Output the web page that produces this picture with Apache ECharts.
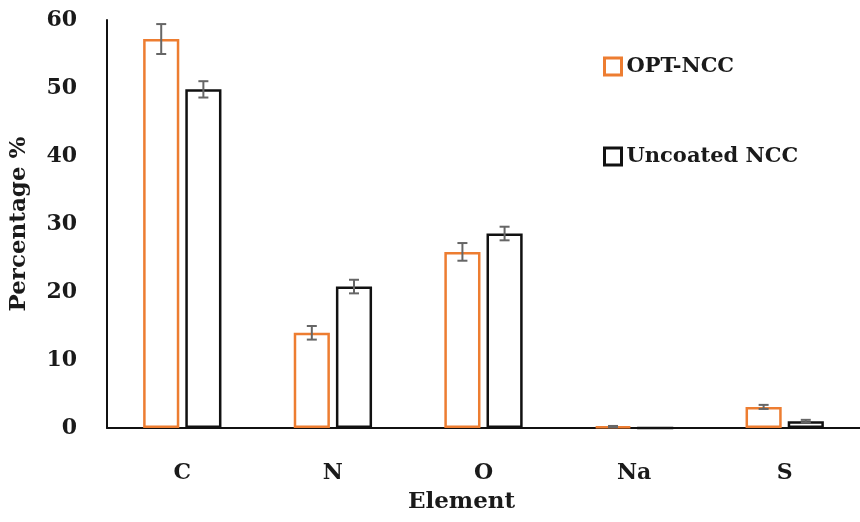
<!DOCTYPE html>
<html>
<head>
<meta charset="utf-8">
<script src="https://cdn.jsdelivr.net/npm/echarts@6/dist/echarts.min.js"></script>
<style>
  html, body { margin: 0; padding: 0; background: #fff; }
  #chart { width: 860px; height: 522px; }
</style>
</head>
<body>
<div id="chart"></div>
<script>
// Elemental composition (EDX), mean ± error
const elements = ['C', 'N', 'O', 'Na', 'S'];
const optNcc = [57.2, 14.0, 25.9, 0.2, 3.1];
const optNccErr = [2.2, 1.0, 1.3, 0.1, 0.3];
const uncoatedNcc = [49.8, 20.8, 28.6, 0.0, 1.0];
const uncoatedNccErr = [1.2, 1.0, 1.0, 0.0, 0.2];
const yTicks = [0, 10, 20, 30, 40, 50, 60];

const FONT = 'DejaVu Serif';
const BAR_W = 0.24;      // fraction of category band
const BAR_GAP = 6 / 36;  // gap between paired bars, fraction of bar width

function errorSeries(name, values, errs, side) {
  return {
    type: 'custom',
    name: name + ' error',
    z: 5,
    silent: true,
    data: values.map((v, i) => [i, v, errs[i]]),
    renderItem: function (params, api) {
      const i = api.value(0);
      const v = api.value(1);
      const e = api.value(2);
      if (!e) return null;
      const band = api.size([1, 0])[0];
      const off = side * band * BAR_W * (1 + BAR_GAP) / 2;
      const top = api.coord([i, v + e]);
      const bot = api.coord([i, v - e]);
      const x = top[0] + off;
      const cap = 5;
      const style = { stroke: '#666', lineWidth: 2, fill: null };
      return {
        type: 'group',
        children: [
          { type: 'line', shape: { x1: x, y1: top[1], x2: x, y2: bot[1] }, style: style },
          { type: 'line', shape: { x1: x - cap, y1: top[1], x2: x + cap, y2: top[1] }, style: style },
          { type: 'line', shape: { x1: x - cap, y1: bot[1], x2: x + cap, y2: bot[1] }, style: style }
        ]
      };
    }
  };
}

const chart = echarts.init(document.getElementById('chart'));
chart.setOption({
  backgroundColor: '#fff',
  animation: false,
  textStyle: { fontFamily: FONT },
  grid: { left: 107, top: 20, width: 758, bottom: 94, containLabel: false },
  legend: {
    orient: 'vertical',
    left: 598,
    top: 51,
    itemGap: 69,
    itemWidth: 17,
    itemHeight: 17,
    icon: 'rect',
    data: [
      { name: 'OPT-NCC', itemStyle: { color: '#fff', borderColor: '#ED7D31', borderWidth: 3 } },
      { name: 'Uncoated NCC', itemStyle: { color: '#fff', borderColor: '#111', borderWidth: 3 } }
    ],
    textStyle: { fontFamily: FONT, fontWeight: 'bold', fontSize: 21, color: '#1a1a1a' }
  },
  xAxis: {
    type: 'category',
    data: elements,
    name: 'Element',
    nameLocation: 'middle',
    nameGap: 63,
    nameTextStyle: { fontFamily: FONT, fontWeight: 'bold', fontSize: 23, color: '#1a1a1a', padding: [0, 44, 0, 0] },
    axisLine: { lineStyle: { color: '#111', width: 2 } },
    axisTick: { show: false },
    axisLabel: { margin: 34, fontFamily: FONT, fontWeight: 'bold', fontSize: 22, color: '#1a1a1a' }
  },
  yAxis: {
    type: 'value',
    min: yTicks[0],
    max: yTicks[yTicks.length - 1],
    interval: 10,
    name: 'Percentage %',
    nameLocation: 'middle',
    nameGap: 76,
    nameTextStyle: { fontFamily: FONT, fontWeight: 'bold', fontSize: 23, color: '#1a1a1a' },
    axisLine: { show: true, lineStyle: { color: '#111', width: 2 } },
    axisTick: { show: false },
    splitLine: { show: false },
    axisLabel: { margin: 30, fontFamily: FONT, fontWeight: 'bold', fontSize: 22, color: '#1a1a1a' }
  },
  series: [
    {
      type: 'bar',
      name: 'OPT-NCC',
      data: optNcc,
      barWidth: (BAR_W * 100) + '%',
      barGap: (BAR_GAP * 100) + '%',
      itemStyle: { color: '#fff', borderColor: '#ED7D31', borderWidth: 2.5 }
    },
    {
      type: 'bar',
      name: 'Uncoated NCC',
      data: uncoatedNcc,
      barWidth: (BAR_W * 100) + '%',
      barGap: (BAR_GAP * 100) + '%',
      itemStyle: { color: '#fff', borderColor: '#111', borderWidth: 2.5 }
    },
    errorSeries('OPT-NCC', optNcc, optNccErr, -1),
    errorSeries('Uncoated NCC', uncoatedNcc, uncoatedNccErr, 1)
  ]
});
</script>
</body>
</html>
